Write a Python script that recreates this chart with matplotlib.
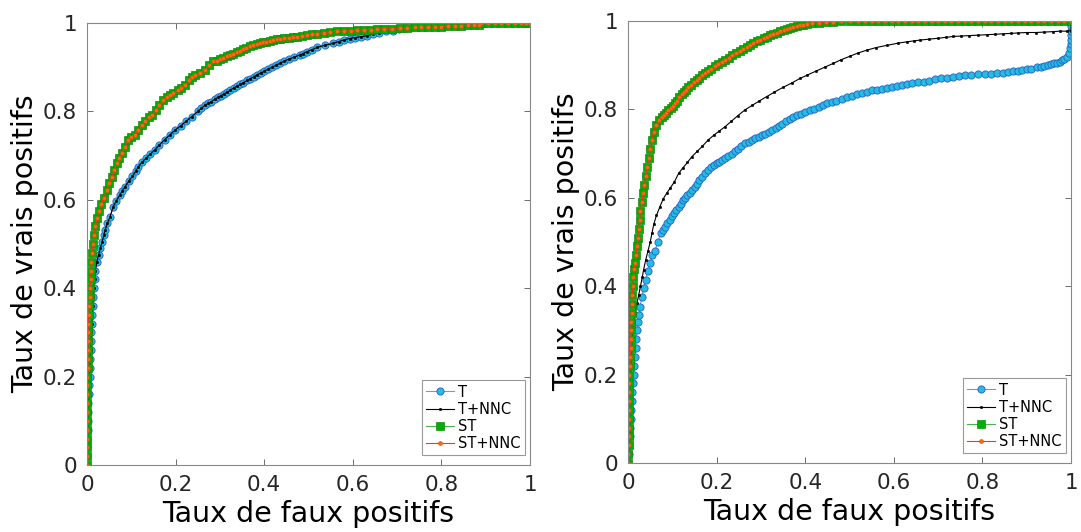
import matplotlib
matplotlib.use("Agg")
import matplotlib.pyplot as plt

plt.rcParams['font.family'] = ['DejaVu Sans']

# ---------------- data ----------------
series_names = ["T", "T+NNC", "ST", "ST+NNC"]
x_ticks = [0, 0.2, 0.4, 0.6, 0.8, 1]
x_tick_labels = ["0", "0.2", "0.4", "0.6", "0.8", "1"]
y_ticks = [0, 0.2, 0.4, 0.6, 0.8, 1]
y_tick_labels = ["0", "0.2", "0.4", "0.6", "0.8", "1"]
x_label = "Taux de faux positifs"
y_label = "Taux de vrais positifs"

# Left panel
fpr_left_st = [0.0, 0.0, 0.0, 0.0, 0.0, 0.001, 0.001, 0.001, 0.001, 0.001, 0.001, 0.002, 0.002, 0.002,
               0.002, 0.003, 0.003, 0.004, 0.005, 0.006, 0.007, 0.008, 0.009, 0.010, 0.011, 0.013, 0.016,
               0.019, 0.023, 0.027, 0.032, 0.038, 0.044, 0.050, 0.056, 0.061, 0.067, 0.072, 0.078, 0.085,
               0.093, 0.100, 0.108, 0.115, 0.123, 0.131, 0.140, 0.146, 0.155, 0.163, 0.172, 0.180, 0.188,
               0.195, 0.205, 0.213, 0.221, 0.230, 0.237, 0.244, 0.255, 0.266, 0.276, 0.285, 0.293, 0.300,
               0.308, 0.315, 0.323, 0.330, 0.338, 0.345, 0.353, 0.360, 0.368, 0.375, 0.383, 0.390, 0.398,
               0.405, 0.413, 0.420, 0.428, 0.436, 0.445, 0.455, 0.465, 0.475, 0.485, 0.496, 0.508, 0.520,
               0.535, 0.549, 0.565, 0.580, 0.595, 0.610, 0.625, 0.640, 0.655, 0.670, 0.688, 0.707, 0.723,
               0.740, 0.755, 0.770, 0.785, 0.800, 0.815, 0.830, 0.845, 0.860, 0.873, 0.885, 0.890, 0.905,
               0.920, 0.935, 0.950, 0.965, 0.980, 0.990, 1.0]
tpr_left_st = [0.0, 0.02, 0.04, 0.06, 0.08, 0.10, 0.12, 0.14, 0.16, 0.18, 0.20, 0.22, 0.24, 0.26,
               0.28, 0.30, 0.32, 0.34, 0.36, 0.38, 0.40, 0.42, 0.44, 0.46, 0.48, 0.50, 0.52,
               0.54, 0.56, 0.575, 0.59, 0.605, 0.622, 0.637, 0.652, 0.667, 0.683, 0.694, 0.705, 0.720,
               0.735, 0.742, 0.747, 0.758, 0.769, 0.779, 0.788, 0.792, 0.804, 0.815, 0.826, 0.832, 0.837,
               0.841, 0.848, 0.854, 0.860, 0.870, 0.877, 0.882, 0.888, 0.894, 0.904, 0.913, 0.915, 0.918,
               0.922, 0.925, 0.928, 0.931, 0.934, 0.937, 0.941, 0.944, 0.947, 0.950, 0.952, 0.954, 0.956,
               0.958, 0.960, 0.962, 0.963, 0.965, 0.966, 0.967, 0.968, 0.969, 0.971, 0.973, 0.975, 0.976,
               0.978, 0.980, 0.981, 0.982, 0.983, 0.984, 0.984, 0.985, 0.986, 0.987, 0.987, 0.988, 0.989,
               0.990, 0.990, 0.991, 0.991, 0.992, 0.993, 0.994, 0.994, 0.995, 0.995, 0.996, 0.999, 1.0,
               1.0, 1.0, 1.0, 1.0, 1.0, 1.0, 1.0]
fpr_left_st_nnc = fpr_left_st
tpr_left_st_nnc = tpr_left_st

fpr_left_t = [0.0, 0.001, 0.001, 0.001, 0.002, 0.002, 0.003, 0.003, 0.004, 0.005, 0.006, 0.006, 0.007,
              0.008, 0.009, 0.010, 0.011, 0.012, 0.013, 0.014, 0.015, 0.017, 0.019, 0.022, 0.026, 0.030,
              0.034, 0.038, 0.041, 0.046, 0.052, 0.059, 0.066, 0.074, 0.080, 0.086, 0.094, 0.102, 0.110,
              0.116, 0.125, 0.134, 0.143, 0.153, 0.163, 0.175, 0.187, 0.199, 0.212, 0.224, 0.236, 0.250,
              0.258, 0.266, 0.273, 0.280, 0.288, 0.295, 0.303, 0.310, 0.317, 0.323, 0.331, 0.338, 0.346,
              0.353, 0.361, 0.368, 0.376, 0.383, 0.392, 0.400, 0.409, 0.418, 0.427, 0.436, 0.445, 0.455,
              0.468, 0.481, 0.488, 0.496, 0.508, 0.520, 0.538, 0.556, 0.568, 0.580, 0.593, 0.605, 0.618,
              0.631, 0.645, 0.660, 0.675, 0.690, 0.705, 0.720, 0.735, 0.750, 0.765, 0.780, 0.795, 0.810,
              0.825, 0.840, 0.855, 0.870, 0.885, 0.900, 0.915, 0.930, 0.945, 0.960, 0.975, 0.990, 1.0]
tpr_left_t = [0.0, 0.02, 0.04, 0.06, 0.08, 0.10, 0.12, 0.14, 0.16, 0.18, 0.20, 0.22, 0.24,
              0.26, 0.28, 0.30, 0.32, 0.34, 0.36, 0.38, 0.40, 0.42, 0.44, 0.46, 0.475, 0.49,
              0.505, 0.52, 0.532, 0.547, 0.562, 0.584, 0.598, 0.611, 0.621, 0.630, 0.642, 0.653, 0.665,
              0.675, 0.686, 0.695, 0.704, 0.713, 0.724, 0.736, 0.747, 0.758, 0.768, 0.778, 0.788, 0.800,
              0.807, 0.814, 0.818, 0.822, 0.827, 0.832, 0.836, 0.840, 0.844, 0.848, 0.853, 0.857, 0.861,
              0.865, 0.870, 0.874, 0.878, 0.882, 0.887, 0.891, 0.896, 0.900, 0.905, 0.909, 0.914, 0.918,
              0.923, 0.928, 0.931, 0.935, 0.940, 0.945, 0.950, 0.954, 0.958, 0.962, 0.965, 0.967, 0.969,
              0.971, 0.975, 0.978, 0.981, 0.983, 0.986, 0.988, 0.990, 0.991, 0.992, 0.993, 0.994, 0.995,
              0.995, 0.996, 0.996, 0.997, 0.998, 0.999, 1.0, 1.0, 1.0, 1.0, 1.0, 1.0, 1.0]
fpr_left_t_nnc = fpr_left_t
tpr_left_t_nnc = tpr_left_t

# Right panel
fpr_right_st = [0.0, 0.0, 0.001, 0.001, 0.001, 0.002, 0.002, 0.002, 0.002, 0.003, 0.003, 0.004, 0.005,
                0.006, 0.006, 0.007, 0.007, 0.008, 0.008, 0.009, 0.011, 0.012, 0.014, 0.016, 0.018, 0.020,
                0.022, 0.024, 0.026, 0.028, 0.031, 0.034, 0.037, 0.040, 0.043, 0.047, 0.050, 0.054, 0.058,
                0.063, 0.069, 0.076, 0.081, 0.086, 0.091, 0.096, 0.101, 0.106, 0.111, 0.116, 0.121, 0.126,
                0.131, 0.136, 0.142, 0.148, 0.155, 0.161, 0.168, 0.174, 0.181, 0.188, 0.196, 0.204, 0.212,
                0.219, 0.227, 0.235, 0.244, 0.252, 0.260, 0.268, 0.276, 0.283, 0.291, 0.298, 0.306, 0.313,
                0.321, 0.328, 0.336, 0.343, 0.351, 0.358, 0.366, 0.373, 0.381, 0.388, 0.396, 0.403, 0.416,
                0.430, 0.446, 0.463, 0.480, 0.500, 0.520, 0.535, 0.550, 0.565, 0.580, 0.595, 0.610, 0.625,
                0.640, 0.655, 0.670, 0.685, 0.700, 0.715, 0.730, 0.745, 0.760, 0.775, 0.790, 0.805, 0.820,
                0.835, 0.850, 0.865, 0.880, 0.895, 0.910, 0.925, 0.940, 0.955, 0.970, 0.985, 1.0]
tpr_right_st = [0.0, 0.02, 0.04, 0.06, 0.08, 0.10, 0.12, 0.14, 0.16, 0.18, 0.20, 0.22, 0.24,
                0.26, 0.28, 0.30, 0.32, 0.34, 0.36, 0.38, 0.40, 0.42, 0.44, 0.452, 0.47, 0.49,
                0.51, 0.53, 0.55, 0.57, 0.59, 0.61, 0.63, 0.65, 0.67, 0.69, 0.71, 0.73, 0.75,
                0.765, 0.775, 0.783, 0.788, 0.793, 0.798, 0.803, 0.808, 0.814, 0.820, 0.827, 0.834, 0.840,
                0.845, 0.851, 0.856, 0.861, 0.867, 0.872, 0.877, 0.882, 0.887, 0.892, 0.898, 0.903, 0.908,
                0.912, 0.917, 0.922, 0.927, 0.932, 0.937, 0.942, 0.946, 0.950, 0.954, 0.957, 0.961, 0.964,
                0.968, 0.971, 0.974, 0.977, 0.980, 0.983, 0.985, 0.987, 0.989, 0.990, 0.992, 0.993, 0.995,
                0.996, 0.997, 0.998, 0.999, 0.999, 1.0, 1.0, 1.0, 1.0, 1.0, 1.0, 1.0, 1.0,
                1.0, 1.0, 1.0, 1.0, 1.0, 1.0, 1.0, 1.0, 1.0, 1.0, 1.0, 1.0, 1.0,
                1.0, 1.0, 1.0, 1.0, 1.0, 1.0, 1.0, 1.0, 1.0, 1.0, 1.0, 1.0]
fpr_right_st_nnc = fpr_right_st
tpr_right_st_nnc = tpr_right_st

fpr_right_t_nnc = [0.0, 0.001, 0.001, 0.002, 0.002, 0.003, 0.003, 0.004, 0.004, 0.005, 0.006, 0.007, 0.008,
                   0.009, 0.010, 0.011, 0.013, 0.016, 0.020, 0.024, 0.028, 0.032, 0.035, 0.040, 0.045, 0.050,
                   0.054, 0.058, 0.064, 0.072, 0.079, 0.087, 0.095, 0.104, 0.114, 0.124, 0.134, 0.144, 0.156,
                   0.168, 0.181, 0.194, 0.206, 0.219, 0.233, 0.248, 0.264, 0.280, 0.296, 0.313, 0.330, 0.350,
                   0.370, 0.388, 0.405, 0.425, 0.445, 0.463, 0.480, 0.500, 0.520, 0.539, 0.560, 0.585, 0.610,
                   0.630, 0.645, 0.660, 0.680, 0.700, 0.717, 0.734, 0.752, 0.770, 0.790, 0.810, 0.828, 0.847,
                   0.864, 0.880, 0.900, 0.920, 0.940, 0.960, 0.975, 0.990, 1.0, 1.0]
tpr_right_t_nnc = [0.0, 0.02, 0.04, 0.06, 0.08, 0.10, 0.12, 0.14, 0.16, 0.18, 0.20, 0.22, 0.24,
                   0.26, 0.28, 0.30, 0.32, 0.34, 0.361, 0.38, 0.40, 0.42, 0.437, 0.46, 0.48, 0.50,
                   0.52, 0.54, 0.56, 0.58, 0.597, 0.610, 0.622, 0.635, 0.655, 0.668, 0.680, 0.693, 0.705,
                   0.717, 0.731, 0.742, 0.751, 0.761, 0.773, 0.786, 0.799, 0.809, 0.819, 0.829, 0.839, 0.850,
                   0.860, 0.870, 0.878, 0.887, 0.896, 0.904, 0.912, 0.920, 0.928, 0.934, 0.940, 0.945, 0.950,
                   0.953, 0.955, 0.957, 0.959, 0.961, 0.963, 0.965, 0.966, 0.967, 0.968, 0.969, 0.970, 0.971,
                   0.972, 0.973, 0.974, 0.974, 0.975, 0.976, 0.977, 0.977, 0.978, 1.0]

fpr_right_t = [0.0, 0.002, 0.003, 0.004, 0.005, 0.006, 0.007, 0.009, 0.010, 0.012, 0.013, 0.014, 0.016,
               0.017, 0.018, 0.020, 0.022, 0.024, 0.027, 0.031, 0.035, 0.040, 0.045, 0.050, 0.055, 0.061,
               0.067, 0.074, 0.079, 0.084, 0.089, 0.094, 0.099, 0.104, 0.109, 0.114, 0.119, 0.124, 0.129,
               0.134, 0.139, 0.144, 0.150, 0.155, 0.161, 0.168, 0.174, 0.181, 0.187, 0.193, 0.200, 0.206,
               0.212, 0.219, 0.226, 0.234, 0.241, 0.249, 0.256, 0.264, 0.272, 0.280, 0.287, 0.295, 0.302,
               0.310, 0.318, 0.325, 0.333, 0.340, 0.348, 0.357, 0.365, 0.373, 0.381, 0.390, 0.400, 0.410,
               0.420, 0.430, 0.440, 0.449, 0.460, 0.470, 0.482, 0.494, 0.505, 0.517, 0.528, 0.539, 0.550,
               0.562, 0.573, 0.585, 0.596, 0.607, 0.618, 0.629, 0.642, 0.655, 0.668, 0.680, 0.693, 0.707,
               0.720, 0.734, 0.747, 0.760, 0.775, 0.790, 0.805, 0.820, 0.833, 0.847, 0.858, 0.870, 0.880,
               0.890, 0.900, 0.910, 0.923, 0.932, 0.940, 0.948, 0.955, 0.962, 0.968, 0.975, 0.980, 0.985,
               0.990, 0.995, 0.998, 1.0, 1.0, 1.0, 1.0, 1.0, 1.0]
tpr_right_t = [0.0, 0.02, 0.04, 0.06, 0.08, 0.10, 0.12, 0.14, 0.16, 0.18, 0.20, 0.22, 0.24,
               0.26, 0.28, 0.30, 0.32, 0.335, 0.354, 0.375, 0.395, 0.415, 0.435, 0.452, 0.47, 0.48,
               0.50, 0.52, 0.528, 0.535, 0.543, 0.55, 0.558, 0.565, 0.573, 0.580, 0.587, 0.594, 0.600,
               0.606, 0.612, 0.618, 0.625, 0.632, 0.640, 0.648, 0.656, 0.663, 0.669, 0.675, 0.679, 0.682,
               0.686, 0.690, 0.695, 0.700, 0.706, 0.711, 0.717, 0.723, 0.727, 0.731, 0.735, 0.738, 0.742,
               0.745, 0.749, 0.753, 0.758, 0.763, 0.768, 0.773, 0.778, 0.783, 0.787, 0.790, 0.794, 0.798,
               0.802, 0.806, 0.810, 0.814, 0.817, 0.820, 0.824, 0.827, 0.831, 0.834, 0.837, 0.840, 0.843,
               0.845, 0.847, 0.849, 0.851, 0.853, 0.855, 0.857, 0.859, 0.861, 0.863, 0.865, 0.868, 0.870,
               0.872, 0.874, 0.876, 0.877, 0.878, 0.879, 0.880, 0.881, 0.882, 0.883, 0.885, 0.886, 0.888,
               0.889, 0.891, 0.892, 0.895, 0.897, 0.899, 0.900, 0.902, 0.904, 0.906, 0.908, 0.911, 0.914,
               0.919, 0.928, 0.938, 0.948, 0.957, 0.968, 0.978, 0.989, 1.0]

# ---------------- styles ----------------
styles = {
    "T": dict(color="#8a8ae0", lw=0.8, marker="o", ms=5.2, mfc="#22bde0", mec="#2a5cc8", mew=0.6),
    "T+NNC": dict(color="black", lw=0.8, marker=".", ms=3.5, mfc="black", mec="black", mew=0.4),
    "ST": dict(color="#4fb04f", lw=0.8, marker="s", ms=5.2, mfc="#00b000", mec="#108a10", mew=0.5),
    "ST+NNC": dict(color="#ff3020", lw=0.8, marker="o", ms=2.8, mfc="#ff6a10", mec="#e84010", mew=0.4),
}

panels = [
    ([0.0805, 0.1259, 0.4098, 0.8308],
     [(fpr_left_t, tpr_left_t), (fpr_left_t_nnc, tpr_left_t_nnc),
      (fpr_left_st, tpr_left_st), (fpr_left_st_nnc, tpr_left_st_nnc)]),
    ([0.5810, 0.1297, 0.4098, 0.8308],
     [(fpr_right_t, tpr_right_t), (fpr_right_t_nnc, tpr_right_t_nnc),
      (fpr_right_st, tpr_right_st), (fpr_right_st_nnc, tpr_right_st_nnc)]),
]

fig = plt.figure(figsize=(10.81, 5.32), dpi=100)
text_color = "#262626"
for rect, data in panels:
    ax = fig.add_axes(rect)
    for name, (xs, ys) in zip(series_names, data):
        ax.plot(xs, ys, label=name, **styles[name])
    ax.set_xlim(0, 1)
    ax.set_ylim(0, 1)
    ax.set_xticks(x_ticks)
    ax.set_xticklabels(x_tick_labels)
    ax.set_yticks(y_ticks)
    ax.set_yticklabels(y_tick_labels)
    ax.tick_params(direction="in", top=True, right=True, length=4, width=0.6,
                   colors="#555555", labelcolor=text_color, labelsize=15.5, pad=7)
    for sp in ax.spines.values():
        sp.set_color("#888888")
        sp.set_linewidth(0.8)
    ax.set_xlabel(x_label, fontsize=20.5, color="black", labelpad=4)
    ax.set_ylabel(y_label, fontsize=20.5, color="black", labelpad=3)
    leg = ax.legend(loc="lower right", bbox_to_anchor=(0.995, 0.015), fontsize=10.5,
                    fancybox=False, framealpha=1, edgecolor="#999999",
                    handlelength=1.9, handletextpad=0.3, borderpad=0.3,
                    labelspacing=0.15, borderaxespad=0.2)
    leg.get_frame().set_linewidth(0.8)

fig.savefig("out.png", dpi=100)
